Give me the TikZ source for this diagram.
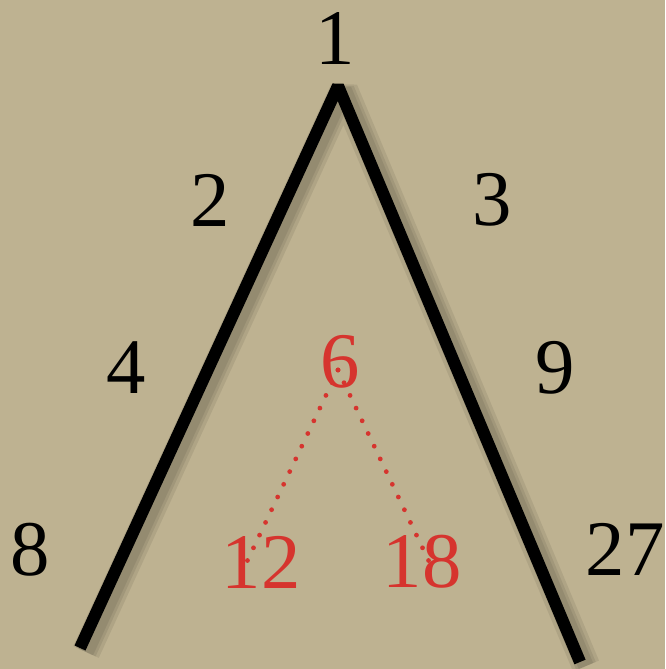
\documentclass[tikz,border=0pt]{standalone}
\usepackage{fontspec}
\setmainfont{Liberation Serif}
\usepackage{tikz}
\usetikzlibrary{positioning,calc}
\usepackage{xcolor}
\definecolor{paperkhaki}{RGB}{190,178,145}
\definecolor{numred}{RGB}{214,52,46}
\tikzset{
    num/.style={inner sep=0pt, font=\fontsize{56}{60}\selectfont},
    numR/.style={num, text=numred},
    arm/.style={line width=8.6pt, black, line join=bevel},
    armshadow/.style={black, opacity=0.08, line join=bevel},
    dotleg/.style={numred, line width=3.4pt, line cap=round, dash pattern=on 0pt off 10pt},
}

\begin{document}
\begin{tikzpicture}[x=0.025cm, y=-0.025cm]
    \useasboundingbox[fill=paperkhaki] (0,0) rectangle (665,669);
    % Outer numbers
    \node[num] (n1) at (335,39) {1};
    \node[num] (n2) at (210,200) {2};
    \node[num] (n3) at (492,200) {3};
    \node[num] (n4) at (126,368) {4};
    \node[num] (n9) at (555,368) {9};
    \node[num] (n8) at (30,550) {8};
    \node[num] (n27) at (625,549) {27};
    % Inner numbers
    \node[numR] (n6) at (340,362) {6};
    \node[numR] (n12) at (261,562) {12};
    \node[numR] (n18) at (422,562) {18};
    % Big lambda
    \coordinate (top) at (338,86);
    \coordinate (footL) at (80,648);
    \coordinate (footR) at (580,662);
    \foreach \s in {11,15,20} {
        \draw[armshadow, line width=\s pt] ($(footL)+(6,4)$) -- ($(top)+(6,4)$) -- ($(footR)+(6,4)$);
    }
    \draw[arm] (footL) -- (top) -- (footR);
    % Dotted legs
    \coordinate (d6) at ($(n6.center)+(-2,8)$);
    \coordinate (d12) at ($(n12.center)+(-19,10)$);
    \coordinate (d18) at ($(n18.center)+(12,10)$);
    \draw[dotleg] (d6) -- (d12);
    \draw[dotleg] (d6) -- (d18);
\end{tikzpicture}
\end{document}
